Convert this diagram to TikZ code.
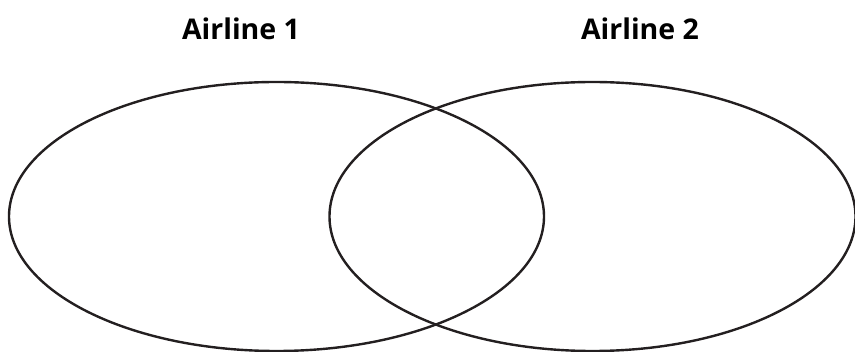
\documentclass[tikz,border=0pt]{standalone}
\usepackage{fontspec}
\setmainfont{Open Sans}
\definecolor{ink}{HTML}{231F20}
\begin{document}
\begin{tikzpicture}[x=1pt,y=-1pt,
  ring/.style={draw=ink,line width=2.4pt},
  title/.style={font=\fontsize{28.5}{32}\selectfont\bfseries,text=black,anchor=base,inner sep=0pt}]
\useasboundingbox (0,0) rectangle (855,352);
\draw[ring] (276.5,216.5) ellipse [x radius=267.5, y radius=134.5];
\draw[ring] (592.5,216.5) ellipse [x radius=263, y radius=134.5];
\node[title] (a1) at (241,40) {Airline 1};
\node[title] (a2) at (640,40) {Airline 2};
\end{tikzpicture}
\end{document}
